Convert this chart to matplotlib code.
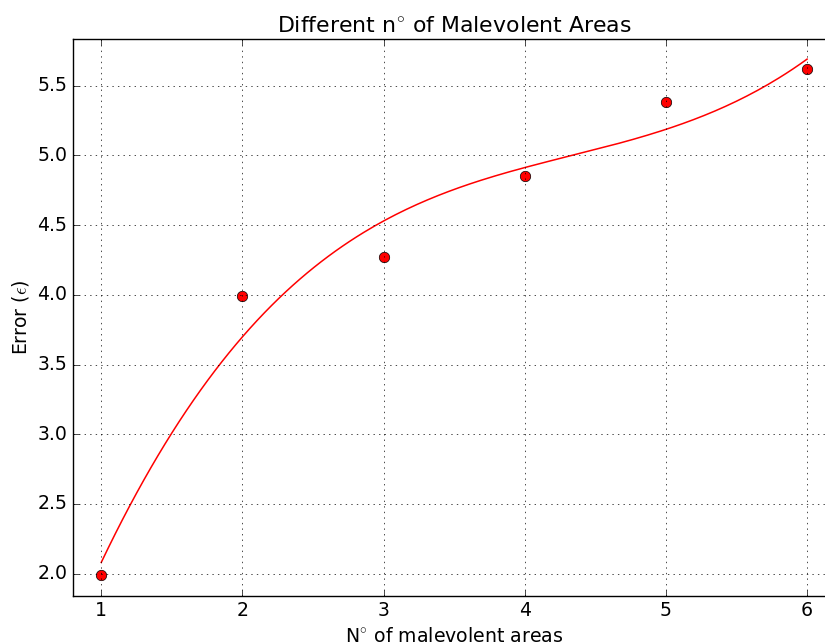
import numpy as np
import matplotlib
matplotlib.use("Agg")
import matplotlib.pyplot as plt

plt.style.use('classic')

# measured errors for each number of malevolent areas
n_areas = [1, 2, 3, 4, 5, 6]
errors = [1.99, 3.99, 4.27, 4.85, 5.38, 5.62]

# cubic trend through the points
coef = np.polyfit(n_areas, errors, 3)
xs = np.linspace(1, 6, 200)
ys = np.polyval(coef, xs)

s = 1.13  # reference looks rendered a bit bigger than classic defaults
plt.rcParams['font.size'] = 12 * s
plt.rcParams['xtick.labelsize'] = 12 * s
plt.rcParams['ytick.labelsize'] = 12 * s

fig = plt.figure(figsize=(8.25, 6.44), dpi=100)
ax = fig.add_axes([0.0885, 0.075, 0.924, 0.8644])

ax.plot(xs, ys, 'r-', linewidth=1.1)
ax.plot(n_areas, errors, 'ro', markersize=7.5)

ax.set_xlim(0.8, 6.2)
ax.set_ylim(1.842, 5.835)
ax.grid(True)
ax.set_title(r'Different n$^{\circ}$ of Malevolent Areas', fontsize=14 * s, pad=5)
ax.set_xlabel(r'N$^{\circ}$ of malevolent areas', fontsize=12 * s)
ax.set_ylabel(r'Error ($\epsilon$)', fontsize=12 * s)

fig.savefig('out.png', dpi=100)
